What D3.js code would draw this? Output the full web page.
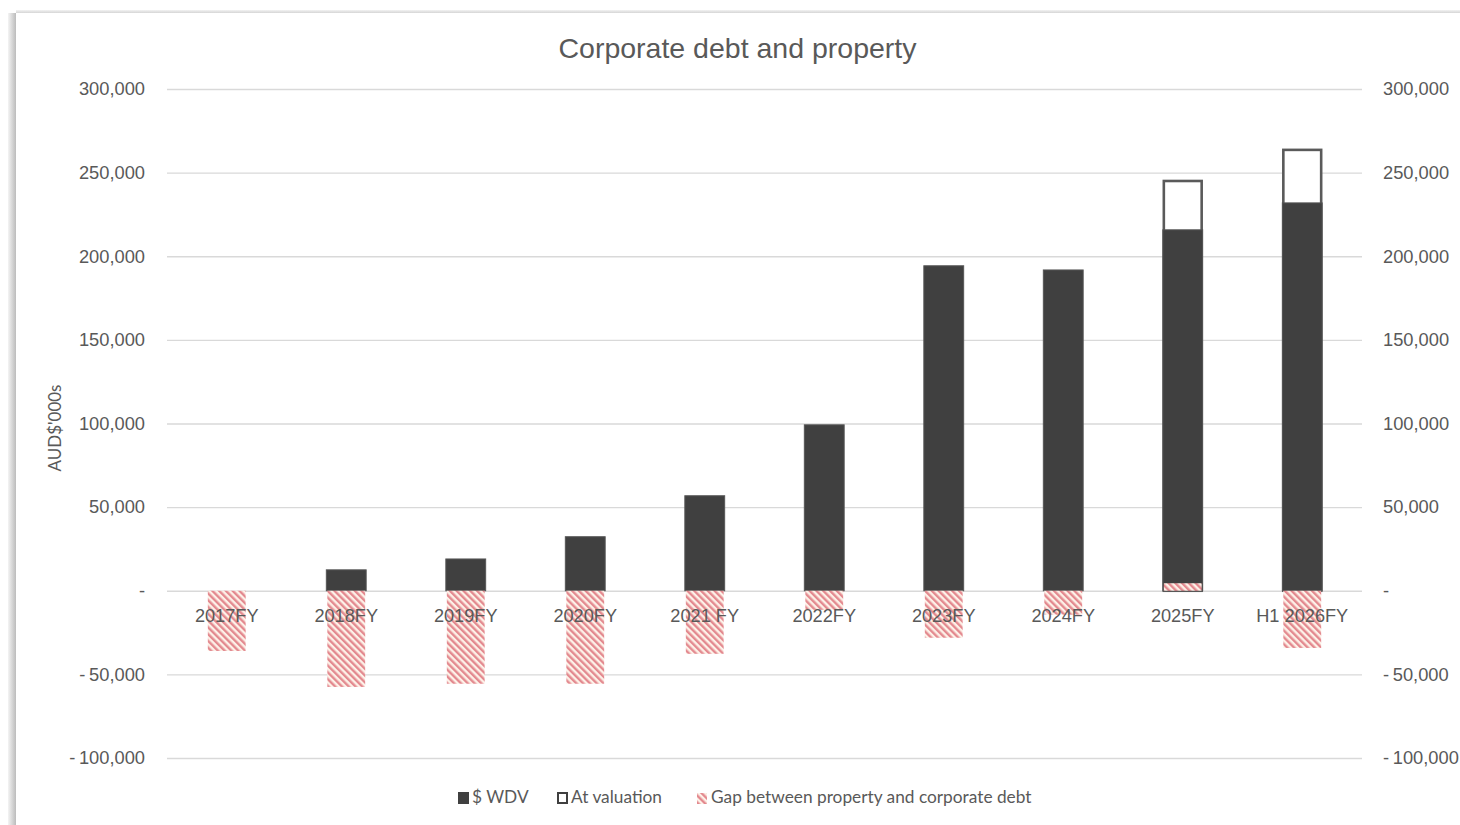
<!DOCTYPE html>
<html>
<head>
<meta charset="utf-8">
<script src="https://cdn.jsdelivr.net/npm/d3@7"></script>
<style>
  html, body { margin: 0; padding: 0; background: #fff; }
  svg { display: block; }
</style>
</head>
<body>
<svg id="chart" width="1460" height="825"></svg>
<script>
// Financial years shown on the x axis
const categories = ["2017FY", "2018FY", "2019FY", "2020FY", "2021 FY", "2022FY", "2023FY", "2024FY", "2025FY", "H1 2026FY"];
// Property written-down value (AUD$'000s)
const wdvValues = [0, 12500, 19000, 32300, 56800, 99200, 194300, 191800, 215800, 231900];
// Property at valuation (only reported for recent periods)
const valuationValues = [null, null, null, null, null, null, null, null, 245000, 263600];
// Gap between property and corporate debt
const gapValues = [-36000, -57500, -55600, -55600, -37700, -11400, -28100, -14300, 4500, -34200];
// Value axis ticks
const yTicks = [-100000, -50000, 0, 50000, 100000, 150000, 200000, 250000, 300000];
const seriesNames = ["$ WDV", "At valuation", "Gap between property and corporate debt"];

const svg = d3.select("#chart");
const textColor = "#595959";
const gridColor = "#d9d9d9";
const darkFill = "#404040";
const font = "'Liberation Sans', Arial, sans-serif";
const legendFont = "Lato, 'Open Sans', sans-serif";

// Card frame with a soft shadow on the left and a hairline on top
const defs = svg.append("defs");
const shade = defs.append("linearGradient").attr("id", "leftShade").attr("x1", 0).attr("x2", 1);
shade.append("stop").attr("offset", 0).attr("stop-color", "#f4f4f4");
shade.append("stop").attr("offset", 1).attr("stop-color", "#bcbcbc");
const topShade = defs.append("linearGradient").attr("id", "topShade").attr("x1", 0).attr("x2", 0).attr("y1", 0).attr("y2", 1);
topShade.append("stop").attr("offset", 0).attr("stop-color", "#f2f2f2");
topShade.append("stop").attr("offset", 1).attr("stop-color", "#d6d6d6");
svg.append("rect").attr("x", 8).attr("y", 13).attr("width", 8).attr("height", 812).attr("fill", "url(#leftShade)");
svg.append("rect").attr("x", 16).attr("y", 10).attr("width", 1444).attr("height", 3).attr("fill", "url(#topShade)");

// Diagonal hatch for the gap series
const hatch = defs.append("pattern")
  .attr("id", "hatch")
  .attr("patternUnits", "userSpaceOnUse")
  .attr("width", 4.8).attr("height", 4.8)
  .attr("patternTransform", "rotate(-45)");
hatch.append("rect").attr("width", 4.8).attr("height", 4.8).attr("fill", "#fdf1e8");
hatch.append("rect").attr("x", 0).attr("width", 2.4).attr("height", 4.8).attr("fill", "#e3898f");

// Scales
const x = d3.scaleBand()
  .domain(categories)
  .range([167, 1362])
  .paddingInner(2 / 3)
  .paddingOuter(1 / 3);
const y = d3.scaleLinear().domain([-100000, 300000]).range([758, 89]);

// Accounting-style labels: dash for zero, spaced dash for negatives
const fmt = v => v === 0 ? "-" : (v < 0 ? "-\u2009" + d3.format(",")(-v) : d3.format(",")(v));

// Gridlines
const grid = d3.axisLeft(y).tickValues(yTicks).tickSize(-(1362 - 167)).tickFormat("");
svg.append("g")
  .attr("transform", "translate(167,0)")
  .call(grid)
  .call(g => g.select(".domain").remove())
  .call(g => g.selectAll("line").attr("stroke", gridColor).attr("stroke-width", 1.3));

// Left and right value axes
const leftAxis = svg.append("g")
  .attr("transform", "translate(145,0)")
  .call(d3.axisLeft(y).tickValues(yTicks).tickSize(0).tickPadding(0).tickFormat(fmt));
const rightAxis = svg.append("g")
  .attr("transform", "translate(1383,0)")
  .call(d3.axisRight(y).tickValues(yTicks).tickSize(0).tickPadding(0).tickFormat(fmt));
[leftAxis, rightAxis].forEach(a => {
  a.select(".domain").remove();
  a.selectAll("text")
    .attr("fill", textColor)
    .style("font-family", font)
    .style("font-size", "18.3px");
});

// At valuation bars (outlined, white)
const barW = x.bandwidth();
svg.append("g").selectAll("rect")
  .data(categories.map((c, i) => ({ c, v: valuationValues[i] })).filter(d => d.v != null))
  .join("rect")
  .attr("x", d => x(d.c) + 1)
  .attr("y", d => y(d.v))
  .attr("width", barW - 2)
  .attr("height", d => y(0) - y(d.v))
  .attr("fill", "#fff")
  .attr("stroke", "#5a5a5a")
  .attr("stroke-width", 2.6);

// Written-down value bars
svg.append("g").selectAll("rect")
  .data(categories.map((c, i) => ({ c, v: wdvValues[i] })).filter(d => d.v > 0))
  .join("rect")
  .attr("x", d => x(d.c))
  .attr("y", d => y(d.v))
  .attr("width", barW)
  .attr("height", d => y(0) - y(d.v))
  .attr("fill", darkFill)
  .attr("stroke", "#555")
  .attr("stroke-width", 1);

// Gap bars (hatched)
svg.append("g").selectAll("rect")
  .data(categories.map((c, i) => ({ c, v: gapValues[i] })))
  .join("rect")
  .attr("x", d => x(d.c) + 1)
  .attr("y", d => Math.min(y(d.v), y(0)))
  .attr("width", barW - 2)
  .attr("height", d => Math.abs(y(d.v) - y(0)))
  .attr("fill", "url(#hatch)");

// Category labels, drawn over the bars just below zero
svg.append("g").selectAll("text")
  .data(categories)
  .join("text")
  .attr("x", d => x(d) + barW / 2)
  .attr("y", 621.5)
  .attr("text-anchor", "middle")
  .attr("fill", textColor)
  .style("font-family", font)
  .style("font-size", "18.2px")
  .text(d => d);

// Title
svg.append("text")
  .attr("x", 737.5).attr("y", 58)
  .attr("text-anchor", "middle")
  .attr("fill", textColor)
  .style("font-family", font)
  .style("font-size", "28.5px")
  .text("Corporate debt and property");

// Value axis title
svg.append("text")
  .attr("transform", "translate(61,428) rotate(-90)")
  .attr("text-anchor", "middle")
  .attr("fill", textColor)
  .style("font-family", legendFont)
  .style("font-size", "17px")
  .text("AUD$'000s");

// Legend
const legend = svg.append("g").attr("transform", "translate(0,797)");
const legendItems = [
  { name: seriesNames[0], x: 458, draw: g => g.append("rect").attr("x", 0).attr("y", -5).attr("width", 11).attr("height", 12).attr("fill", darkFill) },
  { name: seriesNames[1], x: 557, draw: g => g.append("rect").attr("x", 1).attr("y", -4).attr("width", 9).attr("height", 10).attr("fill", "#fff").attr("stroke", "#404040").attr("stroke-width", 2) },
  { name: seriesNames[2], x: 697, draw: g => g.append("rect").attr("x", 0).attr("y", -4).attr("width", 10).attr("height", 11).attr("fill", "url(#hatch)") }
];
legendItems.forEach(it => {
  const g = legend.append("g").attr("transform", `translate(${it.x},0)`);
  it.draw(g);
  g.append("text")
    .attr("x", 14).attr("y", 6)
    .attr("fill", textColor)
    .style("font-family", legendFont)
    .style("font-size", "17.3px")
    .text(it.name);
});
</script>
</body>
</html>
